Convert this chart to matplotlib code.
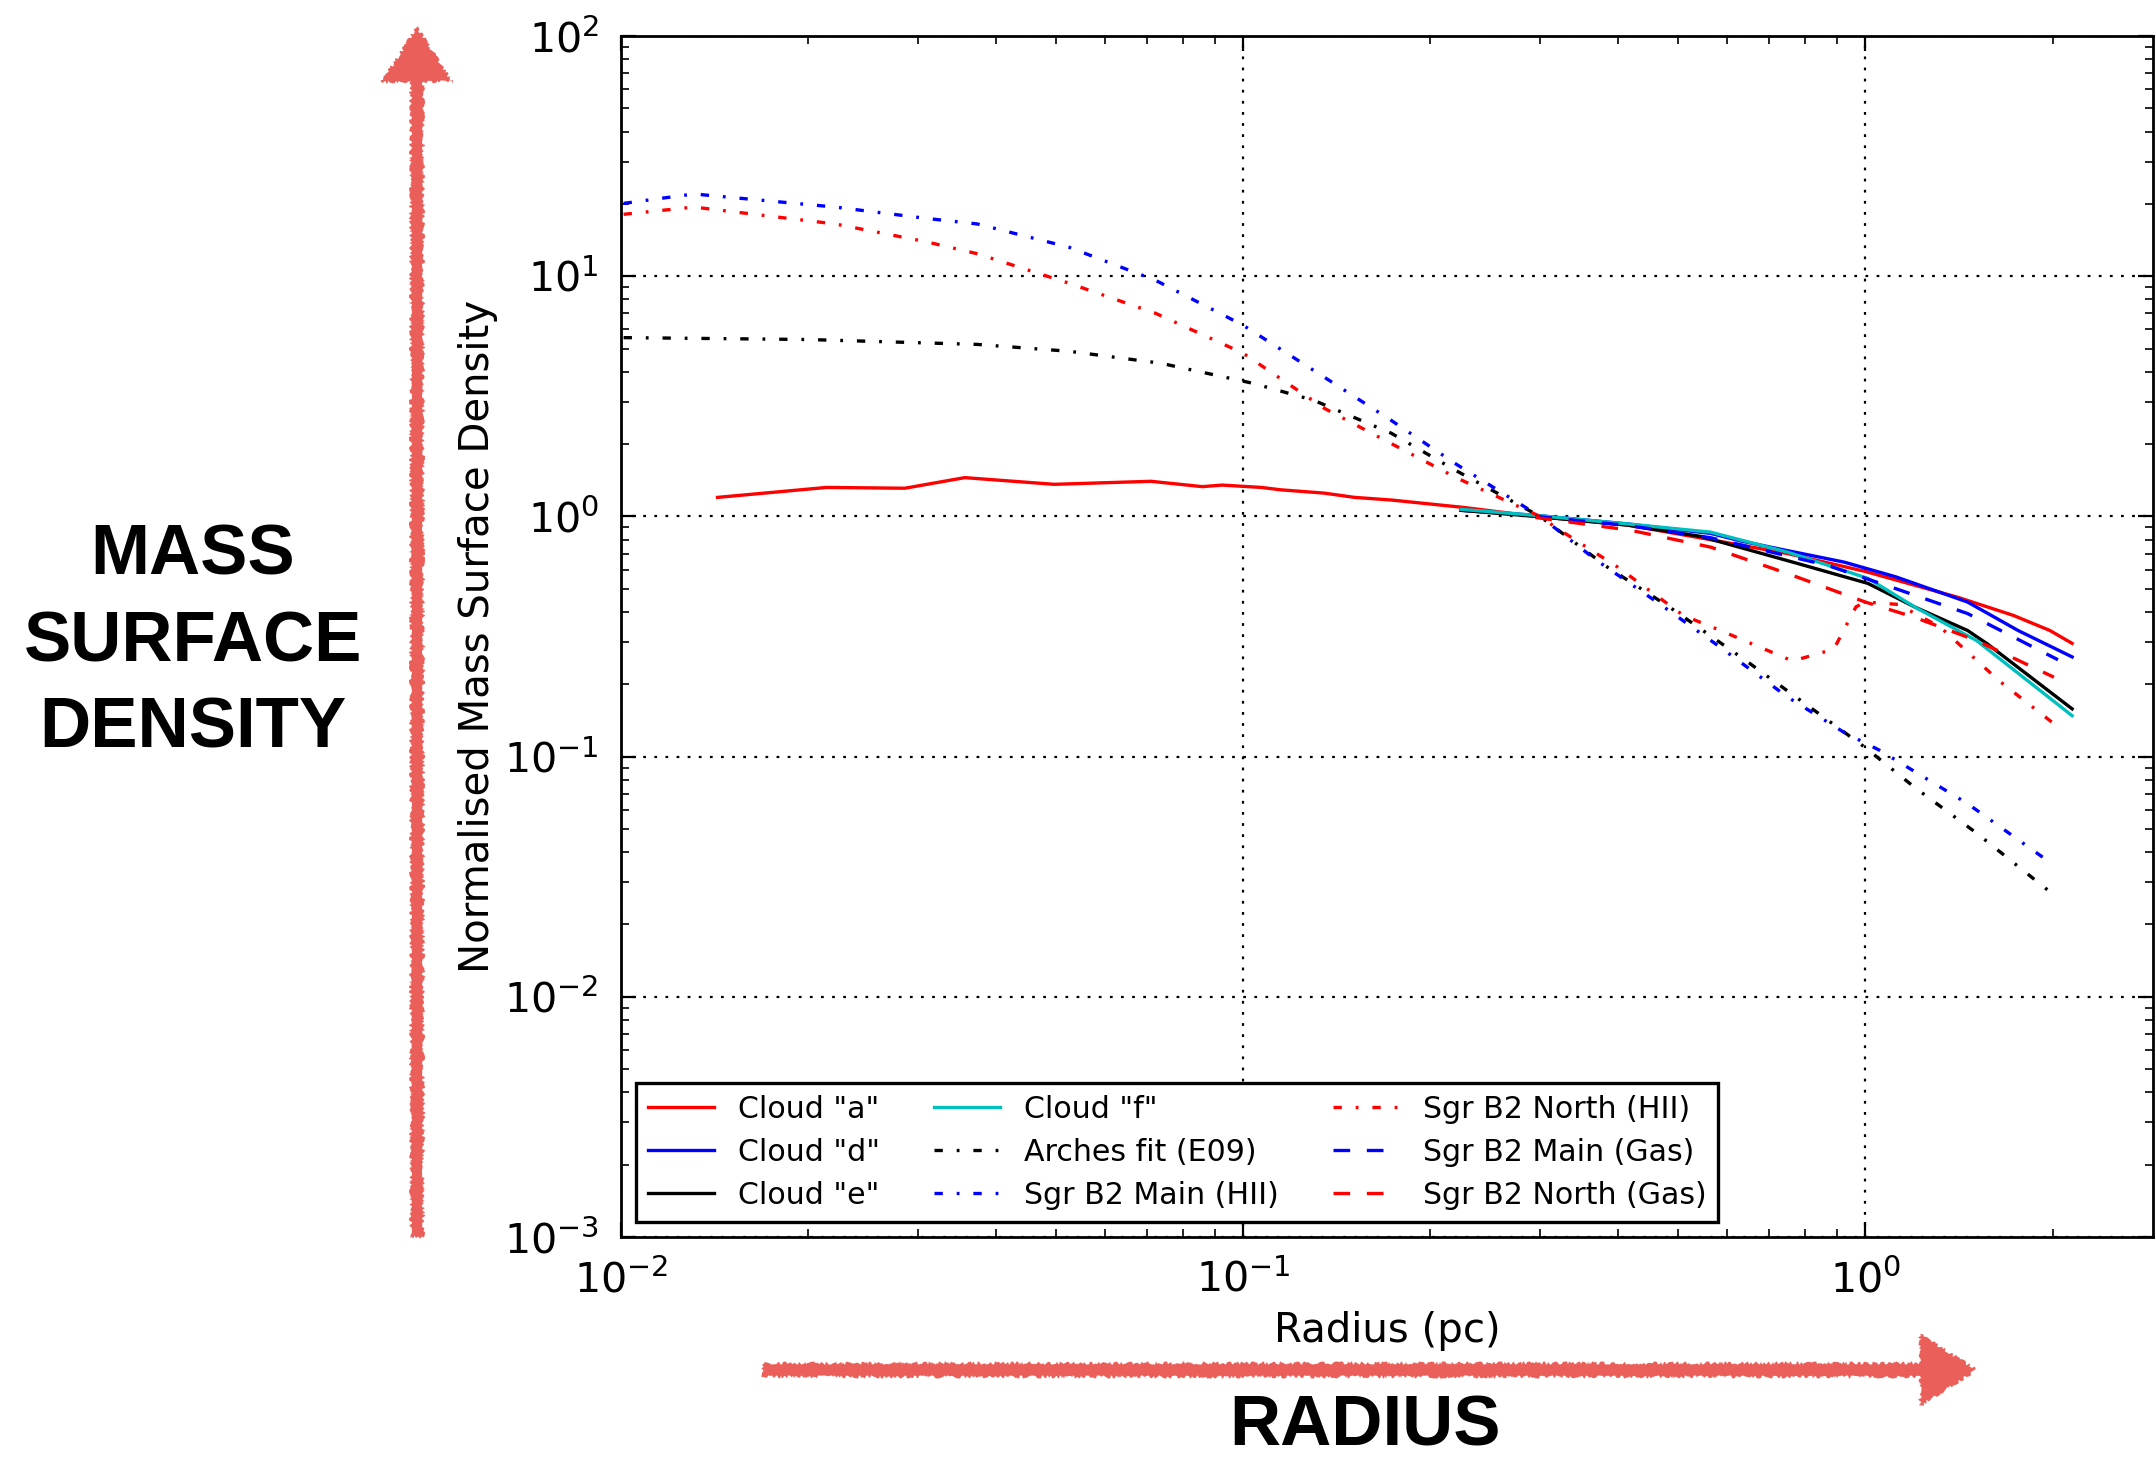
"""Normalised mass surface density profiles of the clouds and Sgr B2."""
import matplotlib
matplotlib.use("Agg")
import matplotlib.pyplot as plt
from matplotlib.patches import FancyArrow

# radius (pc) and normalised surface density
r_a = [0.0143, 0.0214, 0.0286, 0.0357, 0.0497, 0.0711, 0.086, 0.0925, 0.107,
       0.115, 0.135, 0.151, 0.173, 0.226, 0.295, 0.415, 0.564, 0.75, 1.0,
       1.41, 1.73, 1.98, 2.15]
s_a = [1.20, 1.32, 1.31, 1.45, 1.36, 1.40, 1.33, 1.35, 1.32,
       1.29, 1.25, 1.20, 1.17, 1.09, 1.00, 0.92, 0.80, 0.70, 0.59,
       0.46, 0.387, 0.335, 0.296]

r_d = [0.224, 0.295, 0.415, 0.564, 0.631, 0.75, 0.925, 1.12, 1.46, 1.76, 2.15]
s_d = [1.06, 1.01, 0.93, 0.85, 0.79, 0.72, 0.645, 0.56, 0.44, 0.335, 0.26]

r_e = [0.224, 0.295, 0.415, 0.543, 0.778, 1.01, 1.2, 1.46, 1.57, 2.15]
s_e = [1.06, 1.00, 0.92, 0.826, 0.637, 0.526, 0.42, 0.335, 0.295, 0.158]

r_f = [0.224, 0.295, 0.415, 0.564, 0.75, 1.01, 1.2, 1.51, 2.15]
s_f = [1.07, 1.01, 0.93, 0.86, 0.71, 0.552, 0.42, 0.304, 0.148]

r_arch = [0.0101, 0.02, 0.0374, 0.0525, 0.0738, 0.1038, 0.13, 0.173, 0.22,
          0.30, 0.385, 0.484, 0.644, 0.857, 1.0, 1.2, 1.51, 2.0]
s_arch = [5.55, 5.45, 5.2, 4.87, 4.34, 3.58, 3.04, 2.22, 1.55,
          1.0, 0.615, 0.42, 0.25, 0.146, 0.109, 0.0745, 0.048, 0.0268]

r_main_hii = [0.0101, 0.0131, 0.0221, 0.031, 0.0374, 0.0525, 0.0724, 0.1,
              0.135, 0.173, 0.22, 0.30, 0.37, 0.466, 0.585, 0.75, 0.925,
              1.056, 1.46, 1.98]
s_main_hii = [20.1, 22.0, 19.4, 17.4, 16.5, 13.2, 9.6, 6.25,
              3.8, 2.51, 1.65, 1.0, 0.656, 0.434, 0.285, 0.177, 0.126,
              0.106, 0.0637, 0.0363]

r_north_hii = [0.0101, 0.0131, 0.0221, 0.031, 0.0374, 0.0525, 0.0724, 0.1,
               0.135, 0.173, 0.22, 0.30, 0.318, 0.40, 0.51, 0.585, 0.764,
               0.89, 0.966, 1.0, 1.13, 1.32, 1.64, 2.01]
s_north_hii = [18.1, 19.4, 16.5, 13.9, 12.4, 9.35, 7.0, 4.78,
               2.82, 2.01, 1.45, 1.0, 0.90, 0.615, 0.387, 0.335, 0.25,
               0.28, 0.42, 0.44, 0.43, 0.346, 0.207, 0.137]

r_main_gas = [0.295, 0.415, 0.564, 0.87, 1.12, 1.46, 2.04]
s_main_gas = [1.00, 0.917, 0.815, 0.625, 0.50, 0.394, 0.253]

r_north_gas = [0.295, 0.42, 0.564, 0.75, 1.0, 1.2, 1.51, 2.01]
s_north_gas = [0.99, 0.875, 0.745, 0.578, 0.44, 0.38, 0.304, 0.214]

plt.rcParams.update({
    "font.family": "DejaVu Sans",
    "lines.dashed_pattern": [6, 6],
    "lines.dashdot_pattern": [3, 5, 1, 5],
    "lines.dotted_pattern": [1, 3],
    "lines.scale_dashes": False,
    "xtick.direction": "in", "ytick.direction": "in",
    "xtick.top": True, "ytick.right": True,
    "xtick.major.size": 5.5, "ytick.major.size": 5.5,
    "xtick.minor.size": 3, "ytick.minor.size": 3,
    "xtick.minor.visible": True, "ytick.minor.visible": True,
    "axes.linewidth": 1.0,
})

fig = plt.figure(figsize=(10.78, 7.29), dpi=200)
ax = fig.add_axes([0.288, 0.1516, 0.7106, 0.8237])

lw = 1.2
ax.plot(r_a, s_a, "r-", lw=lw, label='Cloud "a"')
ax.plot(r_d, s_d, "b-", lw=lw, label='Cloud "d"')
ax.plot(r_e, s_e, "k-", lw=lw, label='Cloud "e"')
ax.plot(r_f, s_f, "c-", lw=lw, label='Cloud "f"')
ax.plot(r_arch, s_arch, "k-.", lw=lw, label="Arches fit (E09)")
ax.plot(r_main_hii, s_main_hii, "b-.", lw=lw, label="Sgr B2 Main (HII)")
ax.plot(r_north_hii, s_north_hii, "r-.", lw=lw, label="Sgr B2 North (HII)")
ax.plot(r_main_gas, s_main_gas, "b--", lw=lw, label="Sgr B2 Main (Gas)")
ax.plot(r_north_gas, s_north_gas, "r--", lw=lw, label="Sgr B2 North (Gas)")

ax.set_xscale("log")
ax.set_yscale("log")
ax.set_xlim(0.01, 2.9)
ax.set_ylim(1e-3, 1e2)
ax.grid(True, which="major", color="k", linestyle=":", linewidth=0.8)
ax.tick_params(which="both", labelsize=14.8)
ax.tick_params(axis="x", which="major", pad=8.5)
ax.tick_params(axis="y", which="major", pad=8)

ax.set_xlabel("Radius (pc)", fontsize=14.5)
ax.set_ylabel("Normalised Mass Surface Density", fontsize=14.5)
ax.xaxis.set_label_coords(0.5, -0.062)
ax.yaxis.set_label_coords(-0.08, 0.5)

leg = ax.legend(ncol=3, loc="lower left", fontsize=10.8, fancybox=False,
                edgecolor="k", framealpha=1, borderaxespad=0.5,
                handlelength=2.2, columnspacing=1.8, labelspacing=0.47)
leg.get_frame().set_linewidth(1.2)

# overlay in pixel units for the hand-drawn arrows and captions
ov = fig.add_axes([0, 0, 1, 1], zorder=-1)
ov.set_xlim(0, 2156)
ov.set_ylim(1458, 0)
ov.axis("off")

arrow_col = "#EB5F5A"
up = FancyArrow(417, 1237, 0, -1210, width=13, head_width=71,
                head_length=55, length_includes_head=True,
                color=arrow_col, lw=0)
right = FancyArrow(763, 1370, 1214, 0, width=14, head_width=72,
                   head_length=57, length_includes_head=True,
                   color=arrow_col, lw=0)
for arr in (up, right):
    arr.set_sketch_params(scale=1.5, length=6, randomness=20)
    ov.add_patch(arr)

ov.text(193, 643, "MASS\nSURFACE\nDENSITY", ha="center", va="center",
        fontsize=25.5, fontweight="bold", family="Liberation Sans",
        linespacing=1.4)
ov.text(1365, 1428, "RADIUS", ha="center", va="center",
        fontsize=25.5, fontweight="bold", family="Liberation Sans")

fig.savefig("out.png", dpi=200)
